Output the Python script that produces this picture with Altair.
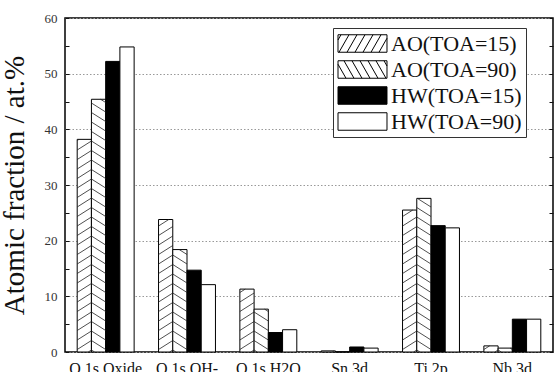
import altair as alt
import pandas as pd
import numpy as np

categories = ["O 1s Oxide", "O 1s OH-", "O 1s H2O", "Sn 3d", "Ti 2p", "Nb 3d"]
series = ["AO(TOA=15)", "AO(TOA=90)", "HW(TOA=15)", "HW(TOA=90)"]
ao15 = [38.2, 23.8, 11.3, 0.2, 25.5, 1.1]
ao90 = [45.4, 18.4, 7.7, 0.0, 27.6, 0.7]
hw15 = [52.2, 14.7, 3.5, 0.9, 22.7, 5.9]
hw90 = [54.8, 12.1, 4.0, 0.7, 22.3, 5.9]
y_ticks = [0, 10, 20, 30, 40, 50, 60]
minor_ticks = [0, 5, 10, 15, 20, 25, 30, 35, 40, 45, 50, 55, 60]

W, H = 488, 334
YMAX = 60
PAD_IN, PAD_OUT = 0.3, 0.15
FONT = "Liberation Serif"

values = [ao15, ao90, hw15, hw90]
rows = []
for j, s in enumerate(series):
    for i, c in enumerate(categories):
        rows.append({"cat": c, "series": s, "value": values[j][i]})
df = pd.DataFrame(rows)

# ---- hatch lines inside the AO bars (style derived from bar geometry) ----
px_x = W / len(categories)
px_y = H / YMAX
bar_w = (1 - PAD_IN) / len(series)
rise, spacing = 9.0, 9.5
hrows = []
for j in (0, 1):
    for i, c in enumerate(categories):
        v = values[j][i]
        top = v * px_y
        xl = i + PAD_OUT + j * bar_w
        wpx = bar_w * px_x
        if top <= 0.5:
            continue
        cc = -rise + 2.0
        while cc < top:
            y0, y1, x0, x1 = cc, cc + rise, 0.0, wpx
            if y0 < 0:
                x0 = (0 - cc) / rise * wpx
                y0 = 0.0
            if y1 > top:
                x1 = (top - cc) / rise * wpx
                y1 = top
            if x1 > x0 + 0.3:
                if j == 1:
                    x0, x1 = wpx - x0, wpx - x1
                hrows.append({
                    "x": xl + x0 / px_x, "x2": xl + x1 / px_x,
                    "y": y0 / px_y, "y2": y1 / px_y,
                })
            cc += spacing
hdf = pd.DataFrame(hrows)

# ---- legend swatch shapes (custom symbol paths) ----
SYM_SIZE = 484
r = np.sqrt(SYM_SIZE) / 2
sw, sh = 24.5, 8.75


def swatch(direction):
    p = f"M{-sw/r:.3f},{-sh/r:.3f}H{sw/r:.3f}V{sh/r:.3f}H{-sw/r:.3f}Z"
    if direction == 0:
        return p
    dx, step = 10.0, 8.0
    xb = -sw - dx + 3
    while xb < sw:
        xa, ya, xz, yz = xb, sh, xb + dx, -sh
        if xa < -sw:
            t = (-sw - xa) / dx
            xa, ya = -sw, sh - 2 * sh * t
        if xz > sw:
            t = (sw - xb) / dx
            xz, yz = sw, sh - 2 * sh * t
        if xz > xa + 0.5:
            if direction == 2:
                xa, xz = -xa, -xz
            p += f"M{xa/r:.3f},{ya/r:.3f}L{xz/r:.3f},{yz/r:.3f}"
        xb += step
    return p


shape_paths = [swatch(1), swatch(2), swatch(0), swatch(0)]
fill_scale = alt.Scale(domain=series, range=["white", "white", "black", "white"])
stroke_scale = alt.Scale(domain=series, range=["black", "black", "black", "black"])

leg_props = dict(
    title=None, orient="none", legendX=268, legendY=10, padding=4,
    strokeColor="#333", fillColor="white", labelFont=FONT, labelFontSize=22,
    labelColor="#111", rowPadding=3, symbolSize=SYM_SIZE,
    symbolStrokeWidth=1, symbolOffset=14, labelOffset=17, symbolOpacity=1,
)

bars = alt.Chart(df).mark_bar(strokeWidth=1).encode(
    x=alt.X("cat:N", sort=categories,
            scale=alt.Scale(paddingInner=PAD_IN, paddingOuter=PAD_OUT),
            axis=alt.Axis(title=None, labelAngle=0, ticks=False, domain=False,
                          labelFont=FONT, labelFontSize=16, labelColor="#111",
                          labelPadding=8)),
    xOffset=alt.XOffset("series:N", sort=series,
                        scale=alt.Scale(paddingInner=0, paddingOuter=0)),
    y=alt.Y("value:Q", scale=alt.Scale(domain=[0, YMAX], nice=False),
            axis=alt.Axis(title="Atomic fraction / at.%", values=y_ticks,
                          ticks=False, tickSize=0, domain=False,
                          labelFont=FONT, labelFontSize=13, labelColor="#333",
                          labelPadding=8, titleFont=FONT, titleFontSize=29,
                          titleFontWeight="normal", titleColor="#111",
                          titlePadding=15, grid=True, gridDash=[1.5, 2],
                          gridColor="#999", gridWidth=1)),
    fill=alt.Fill("series:N", scale=fill_scale, legend=alt.Legend(**leg_props)),
    stroke=alt.Stroke("series:N", scale=stroke_scale, legend=alt.Legend(**leg_props)),
)

hatch = alt.Chart(hdf).mark_rule(stroke="#222", strokeWidth=0.8).encode(
    x=alt.X("x:Q", scale=alt.Scale(domain=[0, len(categories)], nice=False, zero=False),
            axis=None),
    x2="x2:Q",
    y=alt.Y("y:Q", axis=alt.Axis(orient="right", offset=-W, title=None,
                                 values=minor_ticks, labels=False, domain=False,
                                 grid=False, ticks=True, tickSize=4,
                                 tickColor="#111", tickWidth=1)),
    y2="y2:Q",
)

legend_layer = alt.Chart(df).mark_point(
    filled=True, strokeWidth=1, size=SYM_SIZE, opacity=0
).encode(
    y=alt.Y("value:Q", axis=alt.Axis(orient="left", offset=-W, title=None,
                                     values=minor_ticks, labels=False, domain=False,
                                     grid=False, ticks=True, tickSize=4,
                                     tickColor="#111", tickWidth=1)),
    fill=alt.Fill("series:N", scale=fill_scale, legend=alt.Legend(**leg_props)),
    stroke=alt.Stroke("series:N", scale=stroke_scale, legend=alt.Legend(**leg_props)),
    shape=alt.Shape("series:N", scale=alt.Scale(domain=series, range=shape_paths),
                    legend=alt.Legend(**leg_props)),
)

chart = alt.layer(bars, hatch, legend_layer).resolve_scale(
    x="independent"
).resolve_axis(y="independent").properties(
    width=W, height=H,
    autosize=alt.AutoSizeParams(type="none"),
    padding={"left": 65, "top": 18, "right": 1, "bottom": 20},
    background="white",
).configure_view(stroke="black", strokeWidth=1.5)

chart.save("out.html", embed_options={"renderer": "svg", "actions": False})
